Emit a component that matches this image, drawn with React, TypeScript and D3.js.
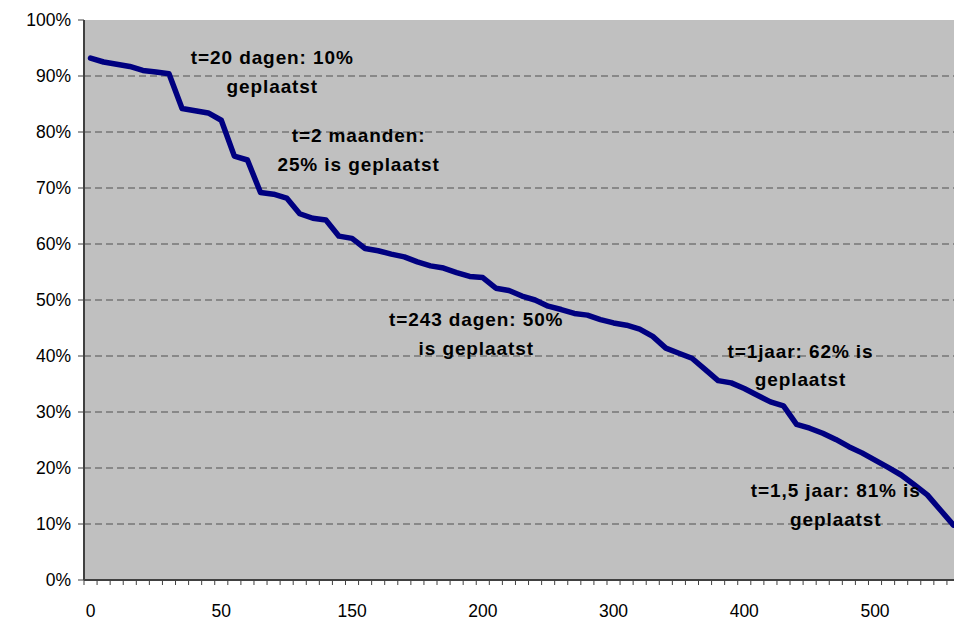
import React from "react";
import * as d3 from "d3";

// percentage still not placed, per category (days)
const values: number[] = [
  93.2, 92.5, 92.1, 91.7, 91.0, 90.7, 90.4, 84.2, 83.8, 83.4,
  82.1, 75.7, 75.0, 69.2, 68.9, 68.2, 65.4, 64.6, 64.3, 61.4,
  61.0, 59.2, 58.8, 58.2, 57.7, 56.8, 56.1, 55.7, 54.9, 54.2,
  54.0, 52.1, 51.7, 50.7, 50.0, 48.9, 48.3, 47.6, 47.3, 46.5,
  45.9, 45.5, 44.8, 43.5, 41.4, 40.5, 39.6, 37.6, 35.6, 35.2,
  34.2, 33.0, 31.8, 31.1, 27.8, 27.1, 26.2, 25.1, 23.8, 22.7,
  21.4, 20.1, 18.75, 17.0, 15.2, 12.5, 9.8,
];
const categories: number[] = values.map((_, i) => i);
const xTickCats: number[] = [0, 10, 20, 30, 40, 50, 60];
const xTickLabels: string[] = ["0", "50", "150", "200", "300", "400", "500"];
const yTicks: number[] = [0, 10, 20, 30, 40, 50, 60, 70, 80, 90, 100];

// annotations anchored in data coordinates (category, percentage)
const annotations = [
  { lines: ["t=20 dagen: 10%", "geplaatst"], cat: 13.9, val: 92.1 },
  { lines: ["t=2 maanden:", "25% is geplaatst"], cat: 20.5, val: 78.2 },
  { lines: ["t=243 dagen: 50%", "is geplaatst"], cat: 29.5, val: 45.3 },
  { lines: ["t=1jaar: 62% is", "geplaatst"], cat: 54.3, val: 39.7 },
  { lines: ["t=1,5 jaar: 81% is", "geplaatst"], cat: 57.0, val: 14.8 },
];

export default function App() {
  const W = 954, H = 622;
  const left = 84, top = 20, bottom = 580, right = 960;
  const x = d3.scaleBand<number>().domain(categories).range([left, right]).paddingInner(0).paddingOuter(0);
  const cx = (c: number) => left + x.bandwidth() * (c + 0.5);
  const y = d3.scaleLinear().domain([0, 100]).range([bottom, top]);
  const line = d3.line<number>().x((_, i) => cx(i)).y((d) => y(d));
  const font = "'Liberation Sans', Arial, sans-serif";
  const boundaries = d3.range(categories.length + 1).map((k) => left + k * x.bandwidth());

  return (
    <svg width={W} height={H} style={{ position: "absolute", left: 0, top: 0, background: "#fff" }}>
      <rect x={left} y={top} width={right - left} height={bottom - top} fill="#C0C0C0" />
      {yTicks.filter((t) => t > 0 && t < 100).map((t) => (
        <line key={t} x1={left} x2={right} y1={y(t)} y2={y(t)} stroke="#505050" strokeWidth={1} strokeDasharray="7,4" />
      ))}
      {/* axes */}
      <line x1={left} x2={left} y1={top} y2={bottom} stroke="#404040" strokeWidth={2} />
      <line x1={left} x2={right} y1={bottom} y2={bottom} stroke="#404040" strokeWidth={2} />
      {yTicks.map((t) => (
        <g key={t}>
          <line x1={left - 6} x2={left} y1={y(t)} y2={y(t)} stroke="#404040" strokeWidth={1} />
          <text x={71} y={y(t) + 6} textAnchor="end" fontFamily={font} fontSize={17.5} fill="#000">{t}%</text>
        </g>
      ))}
      {boundaries.map((bx, k) => (
        <line key={k} x1={bx} x2={bx} y1={bottom} y2={bottom + 5} stroke="#404040" strokeWidth={1} />
      ))}
      {xTickCats.map((c, i) => (
        <text key={c} x={cx(c)} y={617} textAnchor="middle" fontFamily={font} fontSize={17.5} fill="#000">{xTickLabels[i]}</text>
      ))}
      <path d={line(values) || ""} fill="none" stroke="#000080" strokeWidth={5.5} strokeLinejoin="round" strokeLinecap="round" />
      {annotations.map((a, i) => (
        <g key={i}>
          {a.lines.map((l, j) => (
            <text key={j} x={cx(a.cat)} y={y(a.val) + j * 28.5} textAnchor="middle" fontFamily={font} fontWeight="bold" fontSize={19} letterSpacing={0.9} fill="#000">{l}</text>
          ))}
        </g>
      ))}
    </svg>
  );
}
